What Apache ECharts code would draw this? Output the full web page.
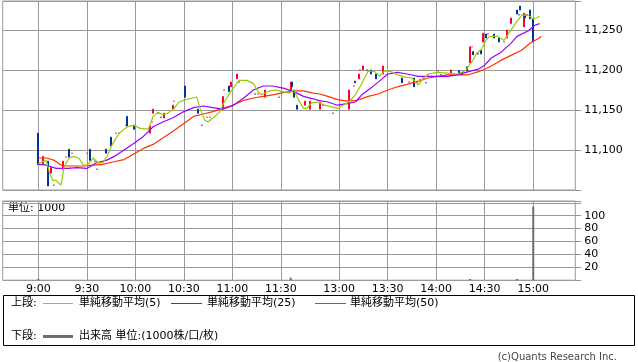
<!DOCTYPE html>
<html><head><meta charset="utf-8">
<script src="https://cdn.jsdelivr.net/npm/echarts@6/dist/echarts.min.js"></script>
<style>html,body{margin:0;padding:0;background:#fff}#c{width:638px;height:362px}</style>
</head><body><div id="c"></div>
<script>
// ---- data ----
const tickLabels = ['9:00','9:30','10:00','10:30','11:00','11:30','13:00','13:30','14:00','14:30','15:00'];
const priceTicks = [11100, 11150, 11200, 11250];
const volumeTicks = [20, 40, 60, 80, 100];
// [time, open, close]
const candles = [
['9:00',11121,11082],['9:03',11082,11092],['9:06',11086,11055],['9:08',11071,11078],['9:10',11056,11056],
['9:15',11076,11086],['9:17',11091,11091],['9:19',11101,11091],['9:21',11096,11096],['9:30',11096,11096],
['9:32',11101,11087],['9:35',11086,11086],['9:36',11076,11076],['9:42',11101,11096],['9:45',11116,11105],
['9:48',11121,11121],['9:50',11121,11121],['9:54',11131,11131],['9:55',11142,11130],['9:59',11131,11126],
['10:09',11121,11130],['10:10',11135,11135],['10:11',11146,11151],['10:14',11146,11146],['10:16',11141,11141],
['10:18',11140,11146],['10:23',11151,11156],['10:24',11161,11161],['10:31',11180,11166],['10:39',11151,11146],
['10:41',11131,11131],['10:44',11141,11141],['10:46',11141,11141],['10:54',11151,11167],['10:55',11175,11175],
['10:58',11180,11173],['10:59',11179,11185],['11:03',11189,11195],['11:04',11185,11185],['11:14',11170,11170],
['11:16',11170,11170],['11:20',11166,11175],['11:29',11166,11166],
['12:30',11174,11185],['12:31',11185,11179],['12:32',11175,11166],['12:34',11156,11151],['12:39',11156,11161],
['12:42',11151,11161],['12:48',11151,11160],['12:50',11156,11156],['12:56',11146,11146],['13:06',11151,11175],
['13:09',11180,11180],['13:10',11186,11184],['13:12',11189,11195],['13:13',11200,11200],['13:15',11200,11205],
['13:17',11200,11200],['13:20',11200,11195],['13:23',11195,11189],['13:27',11195,11205],['13:39',11190,11184],
['13:43',11185,11185],['13:46',11190,11179],['13:48',11184,11184],['13:50',11188,11188],['13:52',11190,11190],
['13:54',11184,11184],['13:55',11194,11194],['14:01',11199,11199],['14:03',11194,11194],['14:07',11192,11192],
['14:09',11195,11200],['14:14',11199,11195],['14:16',11197,11194],['14:19',11204,11199],['14:21',11209,11229],
['14:22',11229,11229],['14:23',11223,11219],['14:25',11221,11221],['14:26',11220,11220],['14:28',11225,11220],
['14:29',11235,11246],['14:31',11245,11240],['14:32',11245,11245],['14:36',11245,11240],['14:39',11240,11235],
['14:42',11235,11235],['14:44',11240,11250],['14:46',11258,11265],['14:50',11275,11270],['14:51',11269,11269],
['14:52',11280,11275],['14:54',11254,11271],['14:55',11269,11265],['14:56',11269,11269],['14:58',11275,11264],
['15:00',11264,11235]
];
const ma5 = [
['9:00',11083],['9:05',11087],['9:07',11071],['9:09',11062],['9:11',11062],['9:14',11056],['9:16',11079],
['9:19',11090],['9:22',11092],['9:25',11090],['9:28',11081],['9:30',11081],['9:32',11085],['9:34',11090],
['9:37',11084],['9:40',11084],['9:43',11094],['9:46',11108],['9:50',11121],['9:55',11129],['9:59',11131],
['10:03',11127],['10:08',11126],['10:11',11142],['10:14',11147],['10:17',11144],['10:20',11146],['10:24',11152],
['10:27',11160],['10:30',11162],['10:35',11165],['10:38',11166],['10:40',11152],['10:43',11137],['10:45',11135],
['10:48',11140],['10:52',11147],['10:55',11160],['10:59',11173],['11:02',11181],['11:04',11187],['11:09',11187],
['11:13',11183],['11:16',11173],['11:18',11169],['11:23',11174],['11:27',11175],['11:31',11173],['11:35',11171],
['12:32',11175],['12:35',11162],['12:38',11152],['12:40',11152],['12:43',11159],['12:47',11160],['12:51',11156],
['12:59',11152],['13:06',11160],['13:10',11169],['13:14',11183],['13:18',11199],['13:22',11198],['13:25',11192],
['13:28',11199],['13:32',11198],['13:36',11194],['13:41',11191],['13:45',11190],['13:49',11181],['13:51',11187],
['13:55',11195],['14:01',11197],['14:07',11196],['14:13',11195],['14:18',11199],['14:22',11210],['14:25',11221],
['14:28',11226],['14:31',11238],['14:33',11242],['14:38',11242],['14:42',11237],['14:45',11246],['14:49',11258],
['14:53',11269],['14:57',11268],['15:00',11264],['15:02',11265],['15:04',11267]
];
const ma25 = [
['9:00',11082],['9:05',11081],['9:11',11077],['9:18',11077],['9:24',11078],['9:30',11077],['9:36',11084],
['9:42',11087],['9:47',11092],['9:53',11100],['9:59',11108],['10:05',11117],['10:11',11129],['10:17',11135],
['10:23',11140],['10:30',11148],['10:36',11153],['10:42',11155],['10:48',11153],['10:54',11151],['11:00',11155],
['11:07',11165],['11:13',11175],['11:19',11180],['11:25',11180],['11:32',11177],['12:32',11173],['12:38',11167],
['12:44',11164],['12:47',11162],['12:53',11160],['12:59',11156],['13:05',11158],['13:10',11160],['13:14',11169],
['13:20',11178],['13:26',11188],['13:30',11195],['13:36',11197],['13:42',11195],['13:49',11192],['13:55',11192],
['14:01',11192],['14:07',11192],['14:13',11194],['14:20',11198],['14:26',11201],['14:30',11206],['14:34',11215],
['14:40',11222],['14:46',11233],['14:50',11242],['14:57',11249],['15:01',11256],['15:04',11258]
];
const ma50 = [
['9:00',11090],['9:05',11090],['9:10',11087],['9:15',11080],['9:22',11080],['9:28',11080],['9:34',11081],
['9:40',11082],['9:46',11085],['9:53',11088],['9:59',11095],['10:05',11102],['10:11',11107],['10:17',11115],
['10:23',11123],['10:30',11133],['10:36',11142],['10:42',11145],['10:48',11148],['10:54',11152],['11:00',11156],
['11:07',11162],['11:13',11165],['11:19',11167],['11:25',11169],['11:32',11172],['12:32',11174],['12:38',11174],
['12:44',11171],['12:48',11170],['12:53',11167],['12:59',11163],['13:05',11161],['13:11',11162],['13:18',11167],
['13:24',11170],['13:30',11175],['13:36',11179],['13:42',11182],['13:49',11186],['13:55',11190],['14:01',11192],
['14:07',11194],['14:13',11194],['14:20',11194],['14:26',11198],['14:30',11201],['14:34',11205],['14:40',11212],
['14:46',11218],['14:53',11225],['14:59',11235],['15:03',11239],['15:05',11242]
];
const volume = [['9:00',2],['12:30',4],['14:21',2],['14:50',2],['15:00',114]];
const seriesNames = ['単純移動平均(5)','単純移動平均(25)','単純移動平均(50)'];

// ---- category axis: one slot per minute ----
function fmt(m){return Math.floor(m/60)+':'+String(m%60).padStart(2,'0');}
const categories = [];
for(let m=8*60+38;m<=11*60+35;m++) categories.push(fmt(m));
for(let m=12*60+30;m<=15*60+26;m++) categories.push(fmt(m));
const idx = t => categories.indexOf(t);
const tickIdx = new Set(tickLabels.map(idx));

const candleData = candles.map(([t,o,c]) => [idx(t),o,c,Math.min(o,c),Math.max(o,c)]);
const lineData = arr => arr.map(([t,v]) => [idx(t),v]);
const volData = volume.map(([t,v]) => [idx(t),v]);

const FONT = 'DejaVu Sans, Noto Sans CJK JP, sans-serif';
const GRID = '#9a9a9a';
const chart = echarts.init(document.getElementById('c'), null, {renderer:'canvas'});
const xBase = {
  type:'category', data:categories, boundaryGap:false,
  axisLine:{show:false}, axisTick:{show:false},
  splitLine:{show:true, interval:(i)=>tickIdx.has(i), lineStyle:{color:GRID,width:1}}
};
chart.setOption({
  animation:false,
  grid:[
    {left:2.7, right:62.7, top:1, height:189, show:true, borderColor:GRID, borderWidth:1},
    {left:2.7, right:62.7, top:201, height:79.2, show:true, borderColor:GRID, borderWidth:1}
  ],
  xAxis:[
    Object.assign({}, xBase, {gridIndex:0, axisLabel:{show:false}}),
    Object.assign({}, xBase, {gridIndex:1, axisLabel:{show:true, interval:(i)=>tickIdx.has(i), color:'#000', fontSize:11, fontFamily:FONT, margin:3}})
  ],
  yAxis:[
    {gridIndex:0, type:'value', position:'right', min:11050, max:11286.25, interval:50,
     axisLine:{show:false}, axisTick:{show:true, length:6, lineStyle:{color:GRID}},
     axisLabel:{color:'#000', fontSize:11, fontFamily:FONT, margin:9,
       formatter:v=>priceTicks.includes(v)?v.toLocaleString('en-US'):''},
     splitLine:{show:true, lineStyle:{color:GRID}}},
    {gridIndex:1, type:'value', position:'right', min:0, max:122.8, interval:20,
     axisLine:{show:false}, axisTick:{show:true, length:6, lineStyle:{color:GRID}},
     axisLabel:{color:'#000', fontSize:11, fontFamily:FONT, margin:9,
       formatter:v=>volumeTicks.includes(v)?String(v):''},
     splitLine:{show:true, lineStyle:{color:GRID}}}
  ],
  series:[
    {type:'candlestick', xAxisIndex:0, yAxisIndex:0, data:candleData, encode:{x:0,y:[1,2,3,4]}, barWidth:1.5,
     itemStyle:{color:'#ff0033', color0:'#003399', borderColor:'#ff0033', borderColor0:'#003399', borderWidth:1}},
    {name:seriesNames[2], type:'line', xAxisIndex:0, yAxisIndex:0, data:lineData(ma50), showSymbol:false, lineStyle:{color:'#ff3300', width:1.2}},
    {name:seriesNames[1], type:'line', xAxisIndex:0, yAxisIndex:0, data:lineData(ma25), showSymbol:false, lineStyle:{color:'#9900ff', width:1.2}},
    {name:seriesNames[0], type:'line', xAxisIndex:0, yAxisIndex:0, data:lineData(ma5), showSymbol:false, lineStyle:{color:'#99cc00', width:1.2}},
    {name:'出来高', type:'bar', xAxisIndex:1, yAxisIndex:1, data:volData, barWidth:2, itemStyle:{color:'#6e6e6e'}}
  ],
  graphic:[
    {type:'text', left:8, top:203, style:{text:'単位: 1000', font:'11px '+FONT, fill:'#000'}},
    {type:'rect', shape:{x:3.5, y:295.5, width:631, height:50}, style:{fill:'#fff', stroke:'#000', lineWidth:1}},
    {type:'text', x:11, y:303.5, style:{text:'上段:', font:'11px '+FONT, fill:'#000', verticalAlign:'middle'}},
    {type:'line', shape:{x1:43, y1:303.5, x2:73, y2:303.5}, style:{stroke:'#99cc00', lineWidth:1}},
    {type:'text', x:79, y:303.5, style:{text:seriesNames[0], font:'11px '+FONT, fill:'#000', verticalAlign:'middle'}},
    {type:'line', shape:{x1:171, y1:303.5, x2:202, y2:303.5}, style:{stroke:'#9900ff', lineWidth:1}},
    {type:'text', x:207, y:303.5, style:{text:seriesNames[1], font:'11px '+FONT, fill:'#000', verticalAlign:'middle'}},
    {type:'line', shape:{x1:315, y1:303.5, x2:346, y2:303.5}, style:{stroke:'#ff3300', lineWidth:1}},
    {type:'text', x:350, y:303.5, style:{text:seriesNames[2], font:'11px '+FONT, fill:'#000', verticalAlign:'middle'}},
    {type:'text', x:11, y:336.5, style:{text:'下段:', font:'11px '+FONT, fill:'#000', verticalAlign:'middle'}},
    {type:'line', shape:{x1:43, y1:336.5, x2:73, y2:336.5}, style:{stroke:'#6e6e6e', lineWidth:3}},
    {type:'text', x:79, y:336.5, style:{text:'出来高 単位:(1000株/口/枚)', font:'11px '+FONT, fill:'#000', verticalAlign:'middle'}},
    {type:'text', x:617, y:357.5, style:{text:'(c)Quants Research Inc.', font:'10px '+FONT, fill:'#444', align:'right', verticalAlign:'middle'}}
  ]
});
</script></body></html>
